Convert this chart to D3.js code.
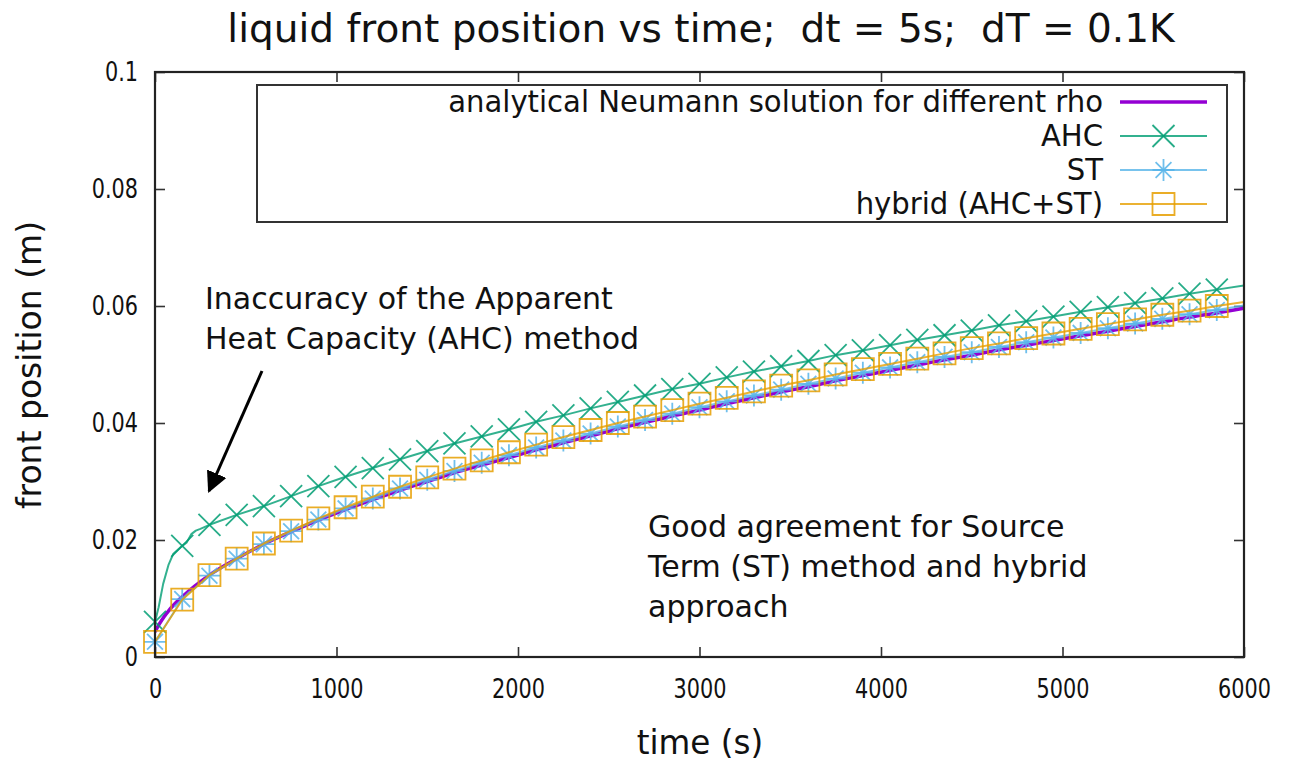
<!DOCTYPE html>
<html>
<head>
<meta charset="utf-8">
<script src="https://cdn.jsdelivr.net/npm/d3@7"></script>
<style>
  html, body { margin: 0; padding: 0; background: #fff; }
  svg { display: block; font-family: "DejaVu Sans", Verdana, sans-serif; }
  .keep-spaces { white-space: pre; }
</style>
</head>
<body>
<svg id="chart" width="1289" height="762"></svg>
<script>
// ---- data -----------------------------------------------------------------
const titleText = "liquid front position vs time;  dt = 5s;  dT = 0.1K";
const xLabelText = "time (s)";
const yLabelText = "front position (m)";

const xTicks = [0, 1000, 2000, 3000, 4000, 5000, 6000];
const xTickLabels = ["0", "1000", "2000", "3000", "4000", "5000", "6000"];
const yTicks = [0, 0.02, 0.04, 0.06, 0.08, 0.1];
const yTickLabels = ["0", "0.02", "0.04", "0.06", "0.08", "0.1"];

const seriesNames = [
  "analytical Neumann solution for different rho",
  "AHC",
  "ST",
  "hybrid (AHC+ST)"
];

// analytical Neumann solution (front position in m)
const analyticTimes = [0, 10, 25, 50, 75, 100, 150, 300, 450, 600, 750, 900, 1050, 1200, 1350,
  1500, 1650, 1800, 1950, 2100, 2250, 2400, 2550, 2700, 2850, 3000, 3150, 3300, 3450, 3600,
  3750, 3900, 4050, 4200, 4350, 4500, 4650, 4800, 4950, 5100, 5250, 5400, 5550, 5700, 5850, 6000];
const analyticValues = [0.0043, 0.0049, 0.0057, 0.0069, 0.0079, 0.0088, 0.0103, 0.0140, 0.0168,
  0.0193, 0.0214, 0.0234, 0.0252, 0.0269, 0.0285, 0.0300, 0.0315, 0.0328, 0.0341, 0.0354,
  0.0366, 0.0378, 0.0390, 0.0401, 0.0412, 0.0422, 0.0433, 0.0443, 0.0453, 0.0462, 0.0472,
  0.0481, 0.0490, 0.0499, 0.0508, 0.0516, 0.0525, 0.0533, 0.0541, 0.0549, 0.0557, 0.0565,
  0.0573, 0.0581, 0.0588, 0.0596];

// apparent heat capacity method
const ahcTimes = [0, 20, 45, 75, 100, 150, 175, 200, 225, 250, 300, 450, 600, 750, 900, 1050,
  1200, 1350, 1500, 1650, 1800, 1950, 2100, 2250, 2400, 2550, 2700, 2850, 3000, 3150, 3300,
  3450, 3600, 3750, 3900, 4050, 4200, 4350, 4500, 4650, 4800, 4950, 5100, 5250, 5400, 5550,
  5700, 5850, 6000];
const ahcValues = [0.0060, 0.0085, 0.0125, 0.0158, 0.0176, 0.0190, 0.0196, 0.0210, 0.0216,
  0.0219, 0.0226, 0.0243, 0.0258, 0.0275, 0.0292, 0.0308, 0.0323, 0.0338, 0.0352, 0.0365,
  0.0377, 0.0389, 0.0402, 0.0413, 0.0425, 0.0436, 0.0447, 0.0458, 0.0467, 0.0478, 0.0488,
  0.0497, 0.0506, 0.0516, 0.0524, 0.0533, 0.0542, 0.0550, 0.0558, 0.0567, 0.0574, 0.0582,
  0.0590, 0.0598, 0.0605, 0.0613, 0.0621, 0.0628, 0.0635];

// source term method and hybrid approach share the output times
const outputTimes = [0, 150, 300, 450, 600, 750, 900, 1050, 1200, 1350, 1500, 1650, 1800,
  1950, 2100, 2250, 2400, 2550, 2700, 2850, 3000, 3150, 3300, 3450, 3600, 3750, 3900, 4050,
  4200, 4350, 4500, 4650, 4800, 4950, 5100, 5250, 5400, 5550, 5700, 5850, 6000];
const stValues = [0.0026, 0.0099, 0.0139, 0.0168, 0.0193, 0.0215, 0.0235, 0.0254, 0.0271,
  0.0288, 0.0303, 0.0318, 0.0332, 0.0345, 0.0358, 0.0370, 0.0382, 0.0394, 0.0405, 0.0416,
  0.0427, 0.0437, 0.0447, 0.0457, 0.0467, 0.0476, 0.0486, 0.0495, 0.0504, 0.0513, 0.0521,
  0.0530, 0.0538, 0.0546, 0.0554, 0.0562, 0.0570, 0.0578, 0.0586, 0.0593, 0.0601];
const hybridValues = [0.0026, 0.0098, 0.0140, 0.0168, 0.0194, 0.0216, 0.0237, 0.0256, 0.0274,
  0.0291, 0.0307, 0.0322, 0.0336, 0.0350, 0.0363, 0.0376, 0.0388, 0.0400, 0.0411, 0.0422,
  0.0433, 0.0443, 0.0454, 0.0464, 0.0473, 0.0483, 0.0492, 0.0501, 0.0510, 0.0519, 0.0528,
  0.0536, 0.0545, 0.0553, 0.0561, 0.0569, 0.0577, 0.0585, 0.0592, 0.0600, 0.0607];

const markerInterval = 150;   // a symbol every 150 s

const annotationLeft = ["Inaccuracy of the Apparent", "Heat Capacity (AHC) method"];
const annotationRight = ["Good agreement for Source", "Term (ST) method and hybrid", "approach"];

// ---- layout ---------------------------------------------------------------
const plot = { left: 155, right: 1244, top: 72, bottom: 657 };
const colors = { analytic: "#9400d3", ahc: "#009e73", st: "#56b4e9", hybrid: "#e69f00" };
const tickFontSize = 26;
const tickSqueeze = 0.8;      // tick numbers are set in a narrow cut

const svg = d3.select("#chart");
svg.append("rect").attr("width", 1289).attr("height", 762).attr("fill", "#fff");

const x = d3.scaleLinear().domain([0, 6000]).range([plot.left, plot.right]);
const y = d3.scaleLinear().domain([0, 0.1]).range([plot.bottom, plot.top]);

svg.append("defs").append("clipPath").attr("id", "plotClip")
  .append("rect")
  .attr("x", plot.left).attr("y", plot.top)
  .attr("width", plot.right - plot.left).attr("height", plot.bottom - plot.top);

// horizontally condense text by a factor while keeping its anchor
function squeeze(sel, k) {
  sel.each(function () {
    const len = this.getComputedTextLength();
    d3.select(this).attr("textLength", len * k).attr("lengthAdjust", "spacingAndGlyphs");
  });
}

// ---- axes (inward ticks, mirrored on top and right) -----------------------
function styleAxis(g) {
  g.select(".domain").remove();
  g.selectAll(".tick line").attr("stroke", "#333").attr("stroke-width", 1.6);
  g.selectAll(".tick text").attr("fill", "#111");
}

svg.append("g")
  .attr("transform", `translate(${plot.left},0)`)
  .call(d3.axisLeft(y).tickValues(yTicks).tickFormat((d, i) => yTickLabels[i])
    .tickSizeInner(-10).tickSizeOuter(0).tickPadding(17))
  .call(styleAxis)
  .call(g => g.selectAll(".tick text").attr("font-size", tickFontSize)
    .attr("font-family", "DejaVu Sans").call(squeeze, tickSqueeze));

svg.append("g")
  .attr("transform", `translate(${plot.right},0)`)
  .call(d3.axisRight(y).tickValues(yTicks).tickFormat(() => "")
    .tickSizeInner(-10).tickSizeOuter(0))
  .call(styleAxis);

svg.append("g")
  .attr("transform", `translate(0,${plot.bottom})`)
  .call(d3.axisBottom(x).tickValues(xTicks).tickFormat((d, i) => xTickLabels[i])
    .tickSizeInner(-10).tickSizeOuter(0).tickPadding(23))
  .call(styleAxis)
  .call(g => g.selectAll(".tick text").attr("font-size", tickFontSize)
    .attr("font-family", "DejaVu Sans").call(squeeze, tickSqueeze));

svg.append("g")
  .attr("transform", `translate(0,${plot.top})`)
  .call(d3.axisTop(x).tickValues(xTicks).tickFormat(() => "")
    .tickSizeInner(-10).tickSizeOuter(0))
  .call(styleAxis);

// ---- series ---------------------------------------------------------------
const markerPath = {
  cross: s => `M${-s},${-s}L${s},${s}M${-s},${s}L${s},${-s}`,
  star: s => {
    const d = s * 0.72;
    return `M0,${-s}L0,${s}M${-s},0L${s},0M${-d},${-d}L${d},${d}M${-d},${d}L${d},${-d}`;
  },
  square: s => `M${-s},${-s}H${s}V${s}H${-s}Z`
};

const series = [
  { name: seriesNames[0], times: analyticTimes, values: analyticValues, color: colors.analytic, width: 3.5, marker: null, curve: d3.curveMonotoneX },
  { name: seriesNames[1], times: ahcTimes, values: ahcValues, color: colors.ahc, width: 2, marker: "cross", size: 11, curve: d3.curveLinear },
  { name: seriesNames[2], times: outputTimes, values: stValues, color: colors.st, width: 2, marker: "star", size: 11, curve: d3.curveLinear },
  { name: seriesNames[3], times: outputTimes, values: hybridValues, color: colors.hybrid, width: 2, marker: "square", size: 11, curve: d3.curveLinear }
];

const dataLayer = svg.append("g");
series.forEach(s => {
  const pts = s.times.map((t, i) => ({ t, v: s.values[i] }));
  const line = d3.line().x(d => x(d.t)).y(d => y(d.v)).curve(s.curve);
  dataLayer.append("path")
    .datum(pts)
    .attr("clip-path", "url(#plotClip)")
    .attr("d", line)
    .attr("fill", "none")
    .attr("stroke", s.color)
    .attr("stroke-width", s.width)
    .attr("stroke-opacity", s.marker ? 0.8 : 1)
    .attr("stroke-linejoin", "round");

  if (s.marker) {
    const marks = pts.filter(d => d.t % markerInterval === 0 && d.t < x.domain()[1]);
    dataLayer.append("g").selectAll("path")
      .data(marks)
      .join("path")
      .attr("transform", d => `translate(${x(d.t)},${y(d.v)})`)
      .attr("d", markerPath[s.marker](s.size))
      .attr("fill", "none")
      .attr("stroke", s.color)
      .attr("stroke-width", 1.8)
      .attr("stroke-opacity", 0.85);
  }
});

// ---- border ---------------------------------------------------------------
svg.append("rect")
  .attr("x", plot.left).attr("y", plot.top)
  .attr("width", plot.right - plot.left).attr("height", plot.bottom - plot.top)
  .attr("fill", "none").attr("stroke", "#222").attr("stroke-width", 2.2);

// ---- legend ---------------------------------------------------------------
const legend = { left: 257, right: 1227, top: 85, bottom: 222, firstRow: 102, rowGap: 34,
  textRight: 1103, sampleFrom: 1120, sampleTo: 1207 };
svg.append("rect")
  .attr("x", legend.left).attr("y", legend.top)
  .attr("width", legend.right - legend.left).attr("height", legend.bottom - legend.top)
  .attr("fill", "#fff").attr("stroke", "#333").attr("stroke-width", 2);

series.forEach((s, i) => {
  const cy = legend.firstRow + i * legend.rowGap;
  svg.append("text")
    .attr("x", legend.textRight).attr("y", cy + 10)
    .attr("text-anchor", "end")
    .attr("font-size", 30)
    .attr("fill", "#111")
    .text(s.name)
    .call(squeeze, 0.97);
  svg.append("line")
    .attr("x1", legend.sampleFrom).attr("x2", legend.sampleTo)
    .attr("y1", cy).attr("y2", cy)
    .attr("stroke", s.color).attr("stroke-width", s.width)
    .attr("stroke-opacity", s.marker ? 0.8 : 1);
  if (s.marker) {
    svg.append("path")
      .attr("transform", `translate(${(legend.sampleFrom + legend.sampleTo) / 2},${cy})`)
      .attr("d", markerPath[s.marker](s.size))
      .attr("fill", "none").attr("stroke", s.color).attr("stroke-width", 1.8)
      .attr("stroke-opacity", 0.85);
  }
});

// ---- titles ---------------------------------------------------------------
svg.append("text")
  .attr("class", "keep-spaces")
  .attr("x", 701).attr("y", 42)
  .attr("text-anchor", "middle")
  .attr("font-size", 39)
  .attr("fill", "#111")
  .text(titleText);

svg.append("text")
  .attr("x", 700).attr("y", 754)
  .attr("text-anchor", "middle")
  .attr("font-size", 34)
  .attr("fill", "#111")
  .text(xLabelText)
  .call(squeeze, 0.96);

svg.append("text")
  .attr("transform", "translate(41,365) rotate(-90)")
  .attr("text-anchor", "middle")
  .attr("font-size", 33)
  .attr("fill", "#111")
  .text(yLabelText);

// ---- annotations ----------------------------------------------------------
annotationLeft.forEach((line, i) => {
  svg.append("text")
    .attr("x", 205).attr("y", 309 + i * 40)
    .attr("font-size", 30)
    .attr("fill", "#111")
    .text(line);
});
annotationRight.forEach((line, i) => {
  svg.append("text")
    .attr("x", 648).attr("y", 537 + i * 40)
    .attr("font-size", 30)
    .attr("fill", "#111")
    .text(line);
});

// arrow pointing at the early AHC deviation
svg.append("defs").append("marker")
  .attr("id", "arrowHead")
  .attr("viewBox", "0 0 10 10")
  .attr("refX", 9).attr("refY", 5)
  .attr("markerWidth", 7).attr("markerHeight", 7)
  .attr("markerUnits", "strokeWidth")
  .attr("orient", "auto")
  .append("path").attr("d", "M0,0L10,5L0,10Z").attr("fill", "#000");
svg.append("line")
  .attr("x1", 262).attr("y1", 371)
  .attr("x2", 209).attr("y2", 491)
  .attr("stroke", "#000").attr("stroke-width", 3)
  .attr("marker-end", "url(#arrowHead)");
</script>
</body>
</html>
